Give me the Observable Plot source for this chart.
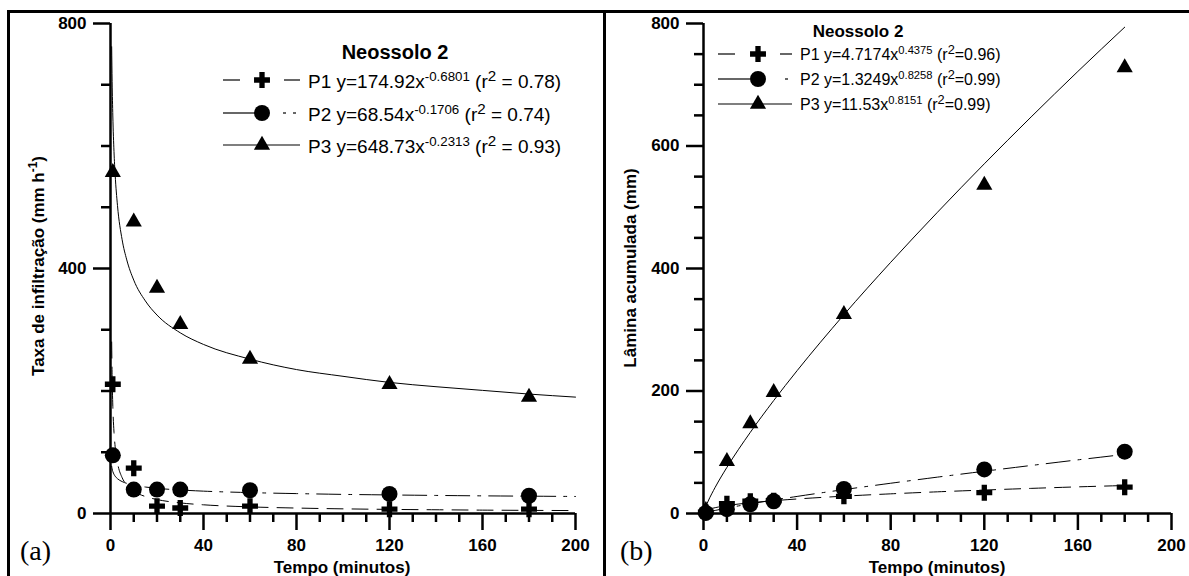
<!DOCTYPE html>
<html><head><meta charset="utf-8">
<script src="https://cdn.jsdelivr.net/npm/d3@7"></script>
<script src="https://cdn.jsdelivr.net/npm/@observablehq/plot@0.6"></script>
<style>
html,body{margin:0;padding:0;background:#fff;}
#fig{position:relative;width:1189px;height:576px;overflow:hidden;font-family:"Liberation Sans",Arial,sans-serif;color:#000;background:#fff;}
.abs{position:absolute;white-space:nowrap;line-height:1;}
.bar{position:absolute;background:#000;}
.e{font-size:0.7em;position:relative;top:-0.55em;}
.r2{font-size:0.8em;position:relative;top:-0.45em;}
.b{font-weight:bold;}
.c{transform:translate(-50%,-50%);}
.rot{transform:translate(-50%,-50%) rotate(-90deg);}
.serif{font-family:"Liberation Serif","Times New Roman",serif;}
</style></head><body><div id="fig"></div>
<script>
// ---- data ----
const tempo = [1, 10, 20, 30, 60, 120, 180];
// (a) Taxa de infiltração (mm h-1)
const taxaP1 = [211, 74, 12, 9, 12, 7, 7];
const taxaP2 = [95, 39, 39, 39, 38, 32, 29];
const taxaP3 = [557, 476, 368, 309, 252, 211, 190];
// fitted curves (a)
const fitXa = [0.5, 0.7, 1, 1.5, 2, 3, 5, 7, 10, 15, 20, 30, 40, 60, 80, 100, 120, 140, 160, 180, 200];
const fitP1a = [280, 223, 175, 133, 109, 83, 58.5, 46.6, 36.5, 27.7, 22.8, 17.3, 14.2, 10.8, 8.9, 7.6, 6.7, 6.1, 5.5, 5.1, 4.8];
const fitP2a = [77.1, 72.8, 68.5, 64.0, 60.9, 56.8, 52.1, 49.2, 46.3, 43.2, 41.1, 38.4, 36.5, 34.1, 32.5, 31.2, 30.3, 29.5, 28.8, 28.3, 27.8];
const fitP3a = [762, 705, 649, 591, 553, 503, 447, 414, 381, 347, 324, 295, 276, 252, 235, 224, 214, 207, 201, 195, 190];
// (b) Lâmina acumulada (mm)
const laminaP1 = [2, 16, 20, 21, 28, 34, 43];
const laminaP2 = [1, 7, 15, 20, 40, 72, 101];
const laminaP3 = [5, 85, 147, 198, 325, 536, 728];
const fitXb = [1, 2, 5, 10, 20, 30, 40, 60, 80, 100, 120, 140, 160, 180];
const fitP1b = [4.7, 6.4, 9.5, 12.9, 17.5, 20.9, 23.7, 28.3, 32.1, 35.4, 38.3, 41.0, 43.5, 45.7];
const fitP2b = [1.3, 2.4, 5.0, 8.9, 15.7, 22.0, 27.9, 39.0, 49.4, 59.4, 69.0, 78.4, 87.6, 96.5];
const fitP3b = [11.5, 20.3, 42.8, 75.3, 132.5, 184.4, 233.2, 324.5, 410.1, 491.9, 570.9, 647.4, 721.8, 794];
// ticks
const xTicks = [0, 40, 80, 120, 160, 200];
const xMinor = [10, 20, 30, 50, 60, 70, 90, 100, 110, 130, 140, 150, 170, 180, 190];
const yTicksA = [0, 400, 800];
const yMinorA = [100, 200, 300, 500, 600, 700];
const yTicksB = [0, 200, 400, 600, 800];
const yMinorB = [50, 100, 150, 250, 300, 350, 450, 500, 550, 650, 700, 750];
const legendA = [
  ["P1", "y=174.92x", "-0.6801", " = 0.78)"],
  ["P2", "y=68.54x", "-0.1706", " = 0.74)"],
  ["P3", "y=648.73x", "-0.2313", " = 0.93)"]
];
const legendB = [
  ["P1", "y=4.7174x", "0.4375", "=0.96)"],
  ["P2", "y=1.3249x", "0.8258", "=0.99)"],
  ["P3", "y=11.53x", "0.8151", "=0.99)"]
];

// ---- styles ----
const series = ["P1", "P2", "P3"];
const symbolOf = {P1: "cross", P2: "circle", P3: "triangle"};
const rOf = {P1: 6.7, P2: 8, P3: 6};
const dashOf = {P1: "16,9", P2: "24,8,3,8", P3: null};

const fig = document.getElementById("fig");
const pts = (xs, ys) => xs.map((v, i) => ({x: v, y: ys[i]}));

function panel({points, fitX, fits, yTicks, yMinor, left, width, marginLeft, marginRight}) {
  const marks = [];
  series.forEach(s => marks.push(Plot.line(pts(fitX, fits[s]), {
    x: "x", y: "y", stroke: "#000", strokeWidth: 1, strokeDasharray: dashOf[s], curve: "monotone-x"
  })));
  series.forEach(s => marks.push(Plot.dot(pts(tempo, points[s]), {
    x: "x", y: "y", symbol: symbolOf[s], r: rOf[s], fill: "#000", stroke: "none"
  })));
  const ax = {stroke: "#000", strokeWidth: 2.5, fontSize: 17, fontWeight: "bold", label: null};
  marks.push(Plot.axisX({...ax, ticks: xTicks, tickSize: 17, tickPadding: 8}));
  marks.push(Plot.axisX({...ax, ticks: xMinor, tickSize: 9, tickFormat: () => ""}));
  marks.push(Plot.axisY({...ax, ticks: yTicks, tickSize: 17, tickPadding: 7}));
  marks.push(Plot.axisY({...ax, ticks: yMinor, tickSize: 9, tickFormat: () => ""}));
  marks.push(Plot.ruleY([0], {stroke: "#000", strokeWidth: 2.5}));
  marks.push(Plot.ruleX([0], {stroke: "#000", strokeWidth: 2.5}));
  const svg = Plot.plot({
    width, height: 576, marginLeft, marginRight, marginTop: 23, marginBottom: 63,
    x: {domain: [0, 200]}, y: {domain: [0, 800]},
    style: {fontFamily: "'Liberation Sans', Arial, sans-serif", background: "transparent", color: "#000", overflow: "visible"},
    marks
  });
  svg.style.position = "absolute";
  svg.style.left = left + "px";
  svg.style.top = "0px";
  fig.appendChild(svg);
}

panel({
  points: {P1: taxaP1, P2: taxaP2, P3: taxaP3},
  fitX: fitXa, fits: {P1: fitP1a, P2: fitP2a, P3: fitP3a},
  yTicks: yTicksA, yMinor: yMinorA, left: 0, width: 604, marginLeft: 110, marginRight: 29
});
panel({
  points: {P1: laminaP1, P2: laminaP2, P3: laminaP3},
  fitX: fitXb, fits: {P1: fitP1b, P2: fitP2b, P3: fitP3b},
  yTicks: yTicksB, yMinor: yMinorB, left: 604, width: 585, marginLeft: 99, marginRight: 18
});

// ---- frame ----
function bar(l, t, w, h) { const d = document.createElement("div"); d.className = "bar";
  Object.assign(d.style, {left: l + "px", top: t + "px", width: w + "px", height: h + "px"}); fig.appendChild(d); }
bar(7, 10, 1182, 3);
bar(7, 10, 3, 566);
bar(603, 10, 3, 566);

// ---- text ----
function txt(html, x, y, cls, size) { const d = document.createElement("div");
  d.className = "abs " + (cls || ""); d.innerHTML = html;
  Object.assign(d.style, {left: x + "px", top: y + "px", fontSize: size + "px"}); fig.appendChild(d); return d; }

txt("Tempo (minutos)", 342, 567, "b c", 17);
txt("Tempo (minutos)", 937, 567, "b c", 17);
txt("Taxa de infiltração (mm h<span class='e'>-1</span>)", 38, 266, "b rot", 17);
txt("Lâmina acumulada (mm)", 630, 268, "b rot", 17);
txt("(a)", 20, 537, "serif", 28);
txt("(b)", 620, 537, "serif", 28);

// ---- legends ----
function legend({titleX, titleY, titleSize, rowY, mx, tx, size, entries, segs}) {
  txt("Neossolo 2", titleX, titleY, "b c", titleSize);
  const svg = d3.select(fig).append("svg").attr("width", 1189).attr("height", 576)
    .style("position", "absolute").style("left", 0).style("top", 0).style("pointer-events", "none");
  entries.forEach((e, i) => {
    const s = series[i], y = rowY[i];
    segs[s].forEach(([a, b]) => svg.append("line").attr("x1", a).attr("x2", b).attr("y1", y).attr("y2", y)
      .attr("stroke", "#000").attr("stroke-width", 1.2));
    const sym = {cross: d3.symbolCross, circle: d3.symbolCircle, triangle: d3.symbolTriangle}[symbolOf[s]];
    svg.append("path").attr("d", d3.symbol(sym, Math.PI * rOf[s] * rOf[s])()).attr("transform", `translate(${mx},${y})`).attr("fill", "#000");
    const d = txt(`${e[0]} ${e[1]}<span class="e">${e[2]}</span> (r<span class="r2">2</span>${e[3]}`, tx, y, "", size);
    d.style.transform = "translateY(-42%)";
  });
}
legend({
  titleX: 395, titleY: 52, titleSize: 20, rowY: [80, 113, 145], mx: 262, tx: 308, size: 19, entries: legendA,
  segs: {P1: [[223, 240], [284, 300]], P2: [[223, 255], [283, 286], [293, 296]], P3: [[223, 300]]}
});
legend({
  titleX: 858, titleY: 31, titleSize: 17, rowY: [54, 79, 104], mx: 758, tx: 800, size: 16, entries: legendB,
  segs: {P1: [[718, 735], [780, 792]], P2: [[718, 750], [785, 788]], P3: [[718, 792]]}
});
</script></body></html>
